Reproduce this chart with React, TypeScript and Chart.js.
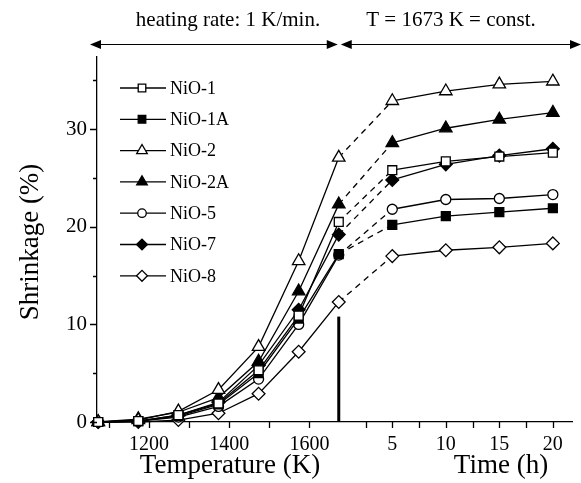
import React, { useEffect, useRef } from 'react';
import { Chart, registerables } from 'chart.js';
import { drawPoint } from 'chart.js/helpers';

Chart.register(...registerables);

// ---- data ----
const temperatures = [1073, 1173, 1273, 1373, 1473, 1573, 1673];
const hours = [5, 10, 15, 20];

const nio1 = [0, 0.1, 0.7, 1.9, 5.3, 10.9, 20.5, 25.8, 26.7, 27.2, 27.6];
const nio1A = [0, 0.1, 0.6, 1.8, 5.0, 10.6, 17.2, 20.2, 21.1, 21.5, 21.9];
const nio2 = [0, 0.2, 1.1, 3.3, 7.7, 16.5, 27.1, 32.9, 33.9, 34.6, 34.9];
const nio2A = [0, 0.3, 1.0, 2.5, 6.2, 13.4, 22.3, 28.6, 30.1, 31.0, 31.7];
const nio5 = [0, 0.1, 0.5, 1.6, 4.4, 10.0, 17.1, 21.8, 22.8, 22.9, 23.3];
const nio7 = [0, 0.1, 0.7, 2.0, 5.8, 11.5, 19.2, 24.8, 26.4, 27.3, 28.0];
const nio8 = [0, 0, 0.2, 0.9, 2.9, 7.2, 12.3, 17.0, 17.6, 17.9, 18.3];

const seriesNames = ['NiO-1', 'NiO-1A', 'NiO-2', 'NiO-2A', 'NiO-5', 'NiO-7', 'NiO-8'];
const seriesValues = [nio1, nio1A, nio2, nio2A, nio5, nio7, nio8];

const tempTickLabels = [1200, 1400, 1600];
const tempMinorTicks = [1100, 1300, 1500];
const timeTickLabels = [5, 10, 15, 20];
const timeMinorTicks = [2.5, 7.5, 12.5, 17.5];
const yTickLabels = [0, 10, 20, 30];
const yMinorTicks = [5, 15, 25, 35];
const holdMarkerValues = [0, 10.8];

const T_HOLD = 1673;
const K_PER_HOUR = 26.7;
const hx = (h: number) => T_HOLD + h * K_PER_HOUR;

const SERIF = '"Liberation Serif", "DejaVu Serif", serif';

const markerStyles = [
  { pointStyle: 'rect', filled: false, radius: 6.3 },
  { pointStyle: 'rect', filled: true, radius: 6.3 },
  { pointStyle: 'triangle', filled: false, radius: 7.2 },
  { pointStyle: 'triangle', filled: true, radius: 7.2 },
  { pointStyle: 'circle', filled: false, radius: 5 },
  { pointStyle: 'rectRot', filled: true, radius: 6.4 },
  { pointStyle: 'rectRot', filled: false, radius: 6.4 },
];

const decorPlugin = {
  id: 'decor',
  afterDraw(chart: any) {
    const { ctx, chartArea, scales } = chart;
    const xs = scales.x;
    const ys = scales.y;
    ctx.save();
    ctx.strokeStyle = '#000';
    ctx.fillStyle = '#000';
    ctx.lineWidth = 1.3;

    // x ticks
    const xTickVals = [
      ...tempTickLabels,
      ...tempMinorTicks,
      ...timeTickLabels.map(hx),
      ...timeMinorTicks.map(hx),
    ];
    ctx.beginPath();
    xTickVals.forEach((v) => {
      const px = Math.round(xs.getPixelForValue(v)) + 0.5;
      ctx.moveTo(px, chartArea.bottom);
      ctx.lineTo(px, chartArea.bottom + 6);
    });
    // y ticks
    yTickLabels.forEach((v) => {
      const py = Math.round(ys.getPixelForValue(v)) + 0.5;
      ctx.moveTo(chartArea.left, py);
      ctx.lineTo(chartArea.left - 7, py);
    });
    yMinorTicks.forEach((v) => {
      const py = Math.round(ys.getPixelForValue(v)) + 0.5;
      ctx.moveTo(chartArea.left, py);
      ctx.lineTo(chartArea.left - 4, py);
    });
    ctx.stroke();

    // top arrows
    const ay = 44.5;
    const mid = xs.getPixelForValue(T_HOLD);
    const arrow = (x1: number, x2: number) => {
      ctx.lineWidth = 1;
      ctx.beginPath();
      ctx.moveTo(x1 + 6, ay);
      ctx.lineTo(x2 - 6, ay);
      ctx.stroke();
      ctx.beginPath();
      ctx.moveTo(x1, ay);
      ctx.lineTo(x1 + 11, ay - 4.5);
      ctx.lineTo(x1 + 11, ay + 4.5);
      ctx.closePath();
      ctx.fill();
      ctx.beginPath();
      ctx.moveTo(x2, ay);
      ctx.lineTo(x2 - 11, ay - 4.5);
      ctx.lineTo(x2 - 11, ay + 4.5);
      ctx.closePath();
      ctx.fill();
    };
    arrow(chartArea.left - 7, mid - 1);
    arrow(mid + 2, chart.width);

    ctx.font = `21px ${SERIF}`;
    ctx.textAlign = 'center';
    ctx.textBaseline = 'middle';
    ctx.fillText('heating rate: 1 K/min.', 228, 20);
    ctx.fillText('T = 1673 K = const.', 451, 20);

    // axis titles
    ctx.font = `27px ${SERIF}`;
    ctx.fillText('Temperature (K)', 230, 466);
    ctx.fillText('Time (h)', 501, 466);
    ctx.save();
    ctx.translate(31, 242);
    ctx.rotate(-Math.PI / 2);
    ctx.fillText('Shrinkage (%)', 0, 0);
    ctx.restore();

    // legend
    const lx = chartArea.left + 23;
    seriesNames.forEach((name, i) => {
      const y = chartArea.top + 31 + i * 31.3;
      const st = markerStyles[i];
      ctx.lineWidth = 1.3;
      ctx.strokeStyle = '#000';
      ctx.beginPath();
      ctx.moveTo(lx, y);
      ctx.lineTo(lx + 46, y);
      ctx.stroke();
      ctx.fillStyle = st.filled ? '#000' : '#fff';
      drawPoint(ctx, { pointStyle: st.pointStyle, radius: st.radius * 0.85, borderWidth: 1.3, rotation: 0 } as any, lx + 22, y);
      ctx.fillStyle = '#000';
      ctx.font = `18px ${SERIF}`;
      ctx.textAlign = 'left';
      ctx.textBaseline = 'middle';
      ctx.fillText(name, lx + 50, y + 1);
    });
    ctx.restore();
  },
};

export default function App() {
  const ref = useRef<HTMLCanvasElement>(null);
  useEffect(() => {
    document.body.style.margin = '0';
    const canvas = ref.current;
    if (!canvas) return;

    const datasets: any[] = seriesValues.map((vals, i) => {
      const st = markerStyles[i];
      return {
        label: seriesNames[i],
        data: [
          ...temperatures.map((t, k) => ({ x: t, y: vals[k] })),
          ...hours.map((h, k) => ({ x: hx(h), y: vals[temperatures.length + k] })),
        ],
        borderColor: '#000',
        borderWidth: 1.3,
        pointStyle: st.pointStyle,
        pointRadius: st.radius,
        pointBorderWidth: 1.3,
        pointBorderColor: '#000',
        pointBackgroundColor: st.filled ? '#000' : '#fff',
        tension: 0,
        clip: false,
        segment: {
          borderDash: (c: any) => (c.p0DataIndex === temperatures.length - 1 ? [6, 5] : undefined),
        },
      };
    });
    datasets.push({
      label: 'hold',
      data: holdMarkerValues.map((v) => ({ x: T_HOLD, y: v })),
      borderColor: '#000',
      borderWidth: 3,
      pointRadius: 0,
      clip: false,
    });

    const chart = new Chart(canvas, {
      type: 'line',
      data: { datasets },
      options: {
        animation: false,
        responsive: false,
        devicePixelRatio: 1,
        layout: { padding: { top: 57, left: 0, right: 0, bottom: 0 } },
        plugins: { legend: { display: false }, tooltip: { enabled: false } },
        scales: {
          x: {
            type: 'linear',
            min: 1070,
            max: 2256,
            afterFit: (s: any) => {
              s.height = 61;
            },
            afterBuildTicks: (s: any) => {
              s.ticks = [...tempTickLabels, ...timeTickLabels.map(hx)].map((v) => ({ value: v }));
            },
            ticks: {
              autoSkip: false,
              maxRotation: 0,
              padding: 11,
              color: '#000',
              font: { family: SERIF, size: 20 },
              callback: (v: any) => {
                const n = Number(v);
                return n <= T_HOLD ? String(n) : String(Math.round((n - T_HOLD) / K_PER_HOUR));
              },
            },
            grid: { display: false, drawTicks: false },
            border: { display: true, color: '#000', width: 1.3 },
          },
          y: {
            type: 'linear',
            min: 0,
            max: 37.4,
            afterFit: (s: any) => {
              s.width = 97;
            },
            afterBuildTicks: (s: any) => {
              s.ticks = yTickLabels.map((v) => ({ value: v }));
            },
            ticks: {
              padding: 10,
              color: '#000',
              font: { family: SERIF, size: 21 },
            },
            grid: { display: false, drawTicks: false },
            border: { display: true, color: '#000', width: 1.3 },
          },
        },
      },
      plugins: [decorPlugin],
    });
    return () => chart.destroy();
  }, []);

  return (
    <div style={{ width: 581, height: 483, background: '#fff' }}>
      <canvas ref={ref} width={581} height={483} style={{ display: 'block', width: 581, height: 483 }} />
    </div>
  );
}
